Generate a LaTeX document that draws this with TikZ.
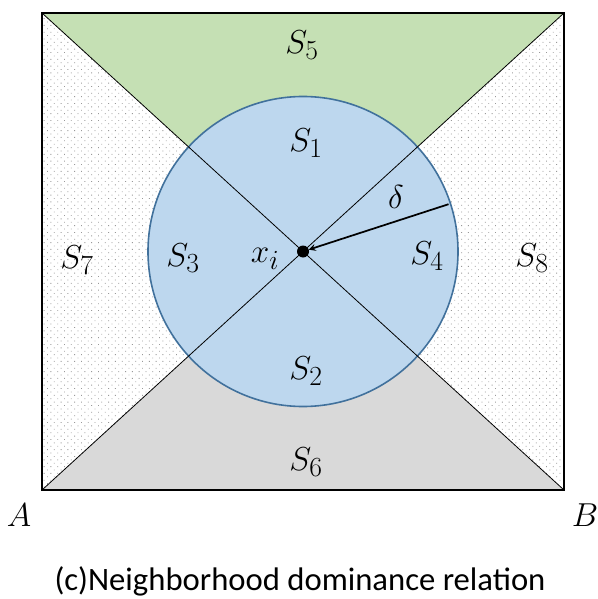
\documentclass[tikz,border=0pt]{standalone}
\usepackage{fontspec}
\newfontfamily\capfont{Carlito}
\usetikzlibrary{patterns,patterns.meta,calc}
\definecolor{upgreen}{HTML}{C5E0B4}
\definecolor{lowgray}{HTML}{D9D9D9}
\definecolor{discblue}{HTML}{BDD7EE}
\definecolor{rimblue}{HTML}{41719C}
\tikzset{
  reglabel/.style={font=\Huge},
  side/.style={pattern={Dots[radius=0.45pt, distance=3.6pt, angle=45]}, pattern color=gray!80}
}
\begin{document}
\begin{tikzpicture}[x=0.75pt, y=-0.75pt, >=stealth]
    \useasboundingbox (0,0) rectangle (597,599);
    % Box corners and centre
    \coordinate (TL) at (42,13);
    \coordinate (TR) at (564,13);
    \coordinate (BL) at (42,490);
    \coordinate (BR) at (564,490);
    \coordinate (O) at (303,251.5);

    % Four triangles
    \fill[upgreen] (TL) -- (TR) -- (O) -- cycle;
    \fill[lowgray] (BL) -- (BR) -- (O) -- cycle;
    \fill[side] (TL) -- (BL) -- (O) -- cycle;
    \fill[side] (TR) -- (BR) -- (O) -- cycle;

    % Neighbourhood disc of radius delta
    \filldraw[fill=discblue, draw=rimblue, line width=1.2pt] (O) circle (155);

    \draw[line width=0.6pt] (TL) -- (BR);
    \draw[line width=0.6pt] (TR) -- (BL);
    \draw[line width=1.5pt] (TL) rectangle (BR);

    % Radius arrow
    \coordinate (R) at ($(O)+(-18:153)$);
    \fill (O) circle (6);
    \draw[->, line width=1.3pt, shorten >=4.5pt] (R) -- (O);

    % Region labels
    \node[reglabel] (s5) at (302,45) {$S_5$};
    \node[reglabel] (s1) at (306,143) {$S_1$};
    \node[reglabel] (s3) at (183,258) {$S_3$};
    \node[reglabel] (s4) at (427,256) {$S_4$};
    \node[reglabel] (s7) at (77,260) {$S_7$};
    \node[reglabel] (s8) at (532,258) {$S_8$};
    \node[reglabel] (s2) at (306,371) {$S_2$};
    \node[reglabel] (s6) at (306,462) {$S_6$};
    \node[reglabel] (xi) at (265,259) {$x_i$};
    \node[reglabel] (dl) at (396,197) {$\delta$};
    \node[reglabel] (A) at (19,515) {$A$};
    \node[reglabel] (B) at (585,515) {$B$};

    \node[font=\capfont\fontsize{24.5}{28}\selectfont] (cap) at (300,581) {(c)Neighborhood dominance relation};
\end{tikzpicture}
\end{document}
